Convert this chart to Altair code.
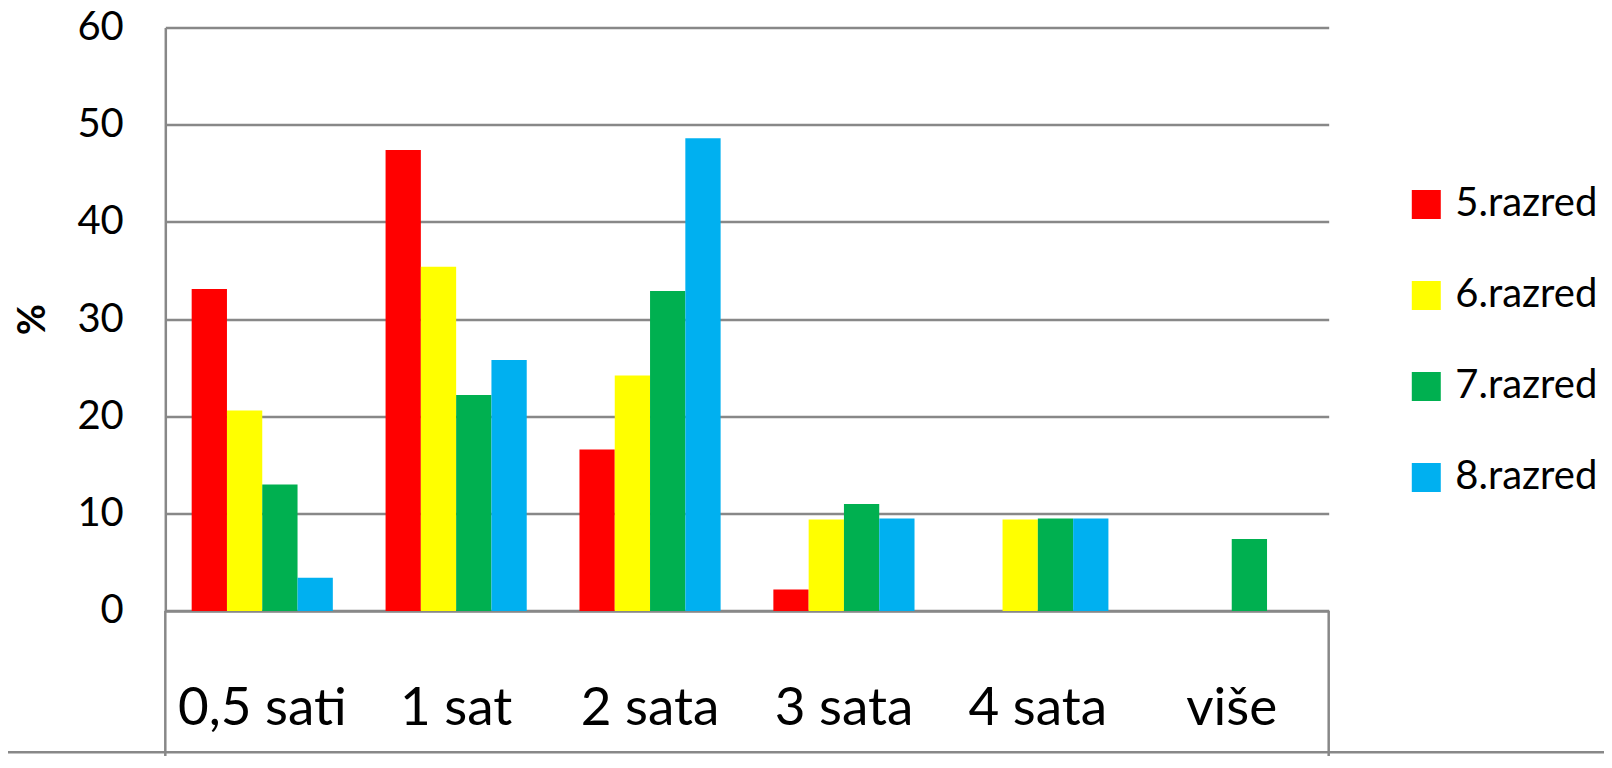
import altair as alt
import pandas as pd

# ---- data ----
categories = ["0,5 sati", "1 sat", "2 sata", "3 sata", "4 sata", "više"]
series = ["5.razred", "6.razred", "7.razred", "8.razred"]
colors = ["#FF0000", "#FFFF00", "#00B050", "#00B0F0"]
v5 = [33.1, 47.4, 16.6, 2.2, None, None]
v6 = [20.6, 35.4, 24.2, 9.4, 9.4, None]
v7 = [13.0, 22.2, 32.9, 11.0, 9.5, 7.4]
v8 = [3.4, 25.8, 48.6, 9.5, 9.5, None]
y_ticks = [0, 10, 20, 30, 40, 50, 60]

rows = []
for s, vals in zip(series, [v5, v6, v7, v8]):
    for c, v in zip(categories, vals):
        if v is not None:
            rows.append({"kategorija": c, "razred": s, "postotak": v})
df = pd.DataFrame(rows)

W = 1163.4
H = 583.4
GRID = "#888888"
LW = 2.5
FONT = "Lato"

bars = alt.Chart(df).mark_bar().encode(
    x=alt.X(
        "kategorija:N",
        sort=categories,
        scale=alt.Scale(domain=categories, paddingInner=0.272, paddingOuter=0.136),
        axis=alt.Axis(
            title=None, ticks=False, tickSize=0, labelAngle=0,
            labelFont=FONT, labelFontSize=53, labelColor="#000000",
            labelPadding=114, labelBaseline="alphabetic", labelLimit=400,
            domain=True, domainColor=GRID, domainWidth=LW, grid=False,
        ),
    ),
    xOffset=alt.XOffset(
        "razred:N",
        scale=alt.Scale(domain=series, paddingInner=0, paddingOuter=0),
    ),
    y=alt.Y(
        "postotak:Q",
        scale=alt.Scale(domain=[0, 60], nice=False),
        axis=alt.Axis(
            values=y_ticks, title="%", ticks=False, tickSize=0,
            labelFont=FONT, labelFontSize=40, labelColor="#000000", labelPadding=42,
            grid=True, gridColor=GRID, gridWidth=LW,
            domain=True, domainColor=GRID, domainWidth=LW,
            titleFont=FONT, titleFontSize=38, titleFontWeight="bold", titleColor="#000000",
            titleX=-132, titleY=H / 2, titleBaseline="middle", titleAlign="center",
        ),
    ),
    color=alt.Color(
        "razred:N",
        scale=alt.Scale(domain=series, range=colors),
        legend=alt.Legend(
            title=None, orient="none", legendX=1241, legendY=157,
            symbolType="square", symbolSize=841, symbolStrokeWidth=0,
            labelFont=FONT, labelFontSize=40, labelColor="#000000",
            labelOffset=9, rowPadding=51, padding=0, labelLimit=400,
        ),
    ),
)

base = alt.Chart(pd.DataFrame({"k": [0]}))
frame_left = base.mark_rule(color=GRID, strokeWidth=LW).encode(
    x=alt.value(0), y=alt.value(H), y2=alt.value(H + 170)
)
frame_right = base.mark_rule(color=GRID, strokeWidth=LW).encode(
    x=alt.value(W), y=alt.value(H), y2=alt.value(H + 170)
)
frame_bottom = base.mark_rule(color=GRID, strokeWidth=LW).encode(
    x=alt.value(-170), x2=alt.value(W + 300), y=alt.value(724.8)
)

chart = (
    alt.layer(bars, frame_left, frame_right, frame_bottom)
    .properties(
        width=W, height=H,
        padding={"left": 157.3, "top": 19.5, "right": 275, "bottom": 145},
        autosize=alt.AutoSizeParams(type="none"),
        background="white",
    )
    .configure_view(strokeWidth=0)
)

chart.save("out.html", embed_options={"renderer": "svg", "actions": False})
